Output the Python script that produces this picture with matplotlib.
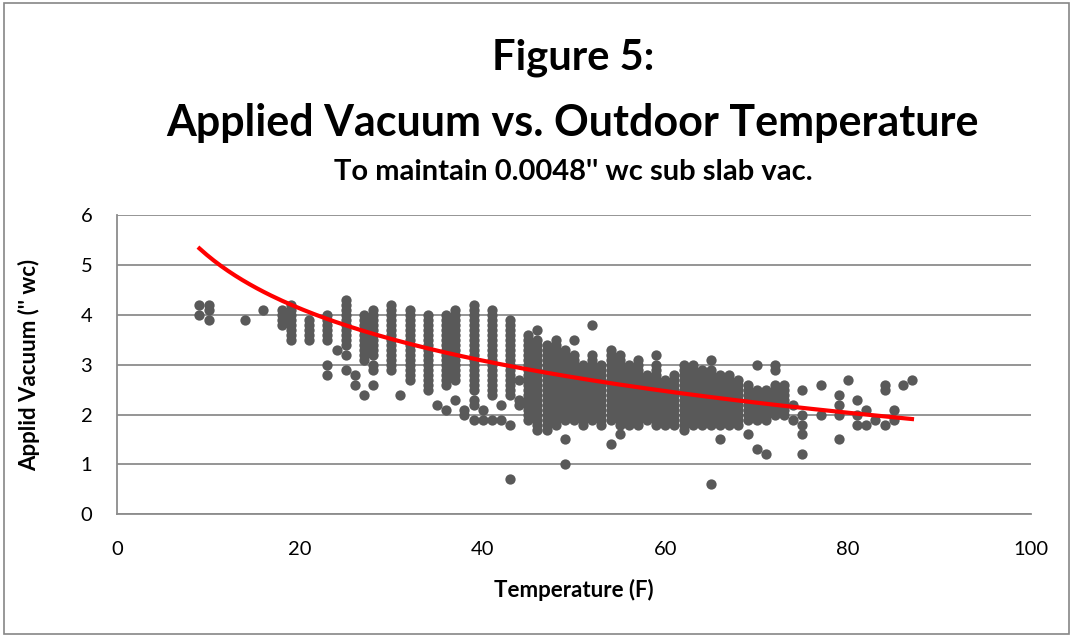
import numpy as np
import matplotlib
matplotlib.use("Agg")
import matplotlib.pyplot as plt
from matplotlib.patches import Rectangle

plt.rcParams['font.family'] = ['Lato', 'DejaVu Sans']

# dense columns: temperature, lowest and highest reading (readings are in 0.1 steps)
col_temp = [18, 19, 21, 23, 25, 27, 28, 30, 32, 34, 36, 37, 39, 41, 43, 45, 46, 47,
            48, 49, 50, 51, 52, 53, 54, 55, 56, 57, 58, 59, 60, 61, 62, 63, 64, 65,
            66, 67, 68, 69, 70, 71, 72, 73]
col_low = [3.8, 3.5, 3.5, 3.5, 3.4, 3.1, 3.2, 2.9, 2.7, 2.5, 2.6, 2.7, 2.5, 2.4, 2.4, 1.9, 1.7, 1.8,
           1.8, 1.9, 1.9, 1.8, 1.9, 1.8, 1.9, 1.8, 1.8, 1.8, 1.9, 1.8, 1.8, 1.8, 1.7, 1.8, 1.8, 1.8,
           1.8, 1.8, 1.8, 1.9, 1.9, 1.9, 2.0, 2.0]
col_high = [4.1, 4.2, 3.9, 4.0, 4.3, 4.0, 4.1, 4.2, 4.1, 4.0, 4.0, 4.1, 4.2, 4.1, 3.9, 3.6, 3.5, 3.4,
            3.5, 3.3, 3.2, 3.0, 3.2, 3.0, 3.3, 3.2, 3.0, 3.1, 2.8, 3.0, 2.7, 2.8, 3.0, 3.0, 2.9, 2.9,
            2.8, 2.8, 2.7, 2.6, 2.5, 2.5, 2.6, 2.5]

# single readings outside the dense columns
pt_temp = [9, 9, 10, 10, 10, 14, 16, 23, 23, 24, 25, 25, 26, 26, 27, 28, 28, 28, 31, 35, 36, 37,
           38, 38, 39, 39, 39, 40, 40, 41, 42, 42, 43, 43, 44, 44, 44, 46, 47, 49, 49, 50, 52,
           54, 55, 59, 65, 65, 66, 69, 70, 70, 71, 72, 72, 73, 74, 74, 75, 75, 75, 75, 75,
           77, 77, 79, 79, 79, 79, 80, 81, 81, 81, 82, 82, 83, 84, 84, 84, 85, 85, 86, 87]
pt_vac = [4.2, 4.0, 4.2, 4.1, 3.9, 3.9, 4.1, 3.0, 2.8, 3.3, 3.2, 2.9, 2.8, 2.6, 2.4, 3.0, 2.9, 2.6,
          2.4, 2.2, 2.1, 2.3, 2.1, 2.0, 2.3, 2.2, 1.9, 2.1, 1.9, 1.9, 2.2, 1.9, 1.8, 0.7, 2.7, 2.3,
          2.2, 3.7, 1.7, 1.5, 1.0, 3.5, 3.8, 1.4, 1.6, 3.2, 3.1, 0.6, 1.5, 1.6, 3.0, 1.3, 1.2, 3.0,
          2.9, 2.6, 2.2, 1.9, 2.5, 2.0, 1.8, 1.6, 1.2, 2.6, 2.0, 2.4, 2.2, 2.0, 1.5, 2.7, 2.3, 2.0,
          1.8, 2.1, 1.8, 1.9, 2.6, 2.5, 1.8, 2.1, 1.9, 2.6, 2.7]

# logarithmic trend line: y = a + b*ln(x)
trend_a = 8.64
trend_b = -1.507
trend_range = [9, 87]

temps, vacs = [], []
for t, lo, hi in zip(col_temp, col_low, col_high):
    n = int(round((hi - lo) * 10)) + 1
    temps += [t] * n
    vacs += list(np.round(np.linspace(lo, hi, n), 1))
temps += pt_temp
vacs += pt_vac

fig = plt.figure(figsize=(10.73, 6.37), dpi=100)
fig.patches.append(Rectangle((0.004, 0.004), 0.992, 0.992, transform=fig.transFigure,
                             fill=False, edgecolor='#868686', linewidth=1.2))
ax = fig.add_axes([0.1093, 0.1926, 0.8513, 0.4699])

ax.scatter(temps, vacs, s=55, color='#595959', linewidths=0, zorder=3)

xs = np.linspace(trend_range[0], trend_range[1], 200)
ax.plot(xs, trend_a + trend_b * np.log(xs), color='#FF0000', linewidth=3, zorder=4)

ax.set_xlim(0, 100)
ax.set_ylim(0, 6)
ax.set_xticks(range(0, 101, 20))
ax.set_yticks(range(0, 7))
ax.grid(axis='y', color='#8c8c8c', linewidth=1.3)
ax.set_axisbelow(True)
for side in ['top', 'right']:
    ax.spines[side].set_visible(False)
for side in ['left', 'bottom']:
    ax.spines[side].set_color('#8c8c8c')
    ax.spines[side].set_linewidth(1.3)
ax.tick_params(length=0, labelsize=14.5)
ax.tick_params(axis='x', pad=19)
ax.tick_params(axis='y', pad=18)

ax.set_xlabel('Temperature (F)', fontsize=16, fontweight='bold')
ax.set_ylabel("Applid Vacuum ('' wc)", fontsize=16, fontweight='bold')
ax.xaxis.label.set_va('center')
ax.yaxis.label.set_va('center')
ax.xaxis.set_label_coords(0.5, -0.253)
ax.yaxis.set_label_coords(-0.096, 0.5)

fig.text(0.534, 0.91, 'Figure 5:', ha='center', va='center', fontsize=30, fontweight='bold')
fig.text(0.534, 0.807, 'Applied Vacuum vs. Outdoor Temperature', ha='center', va='center',
         fontsize=31, fontweight='bold')
fig.text(0.534, 0.73, "To maintain 0.0048'' wc sub slab vac.", ha='center', va='center',
         fontsize=21, fontweight='bold')

fig.savefig('out.png', dpi=100)
